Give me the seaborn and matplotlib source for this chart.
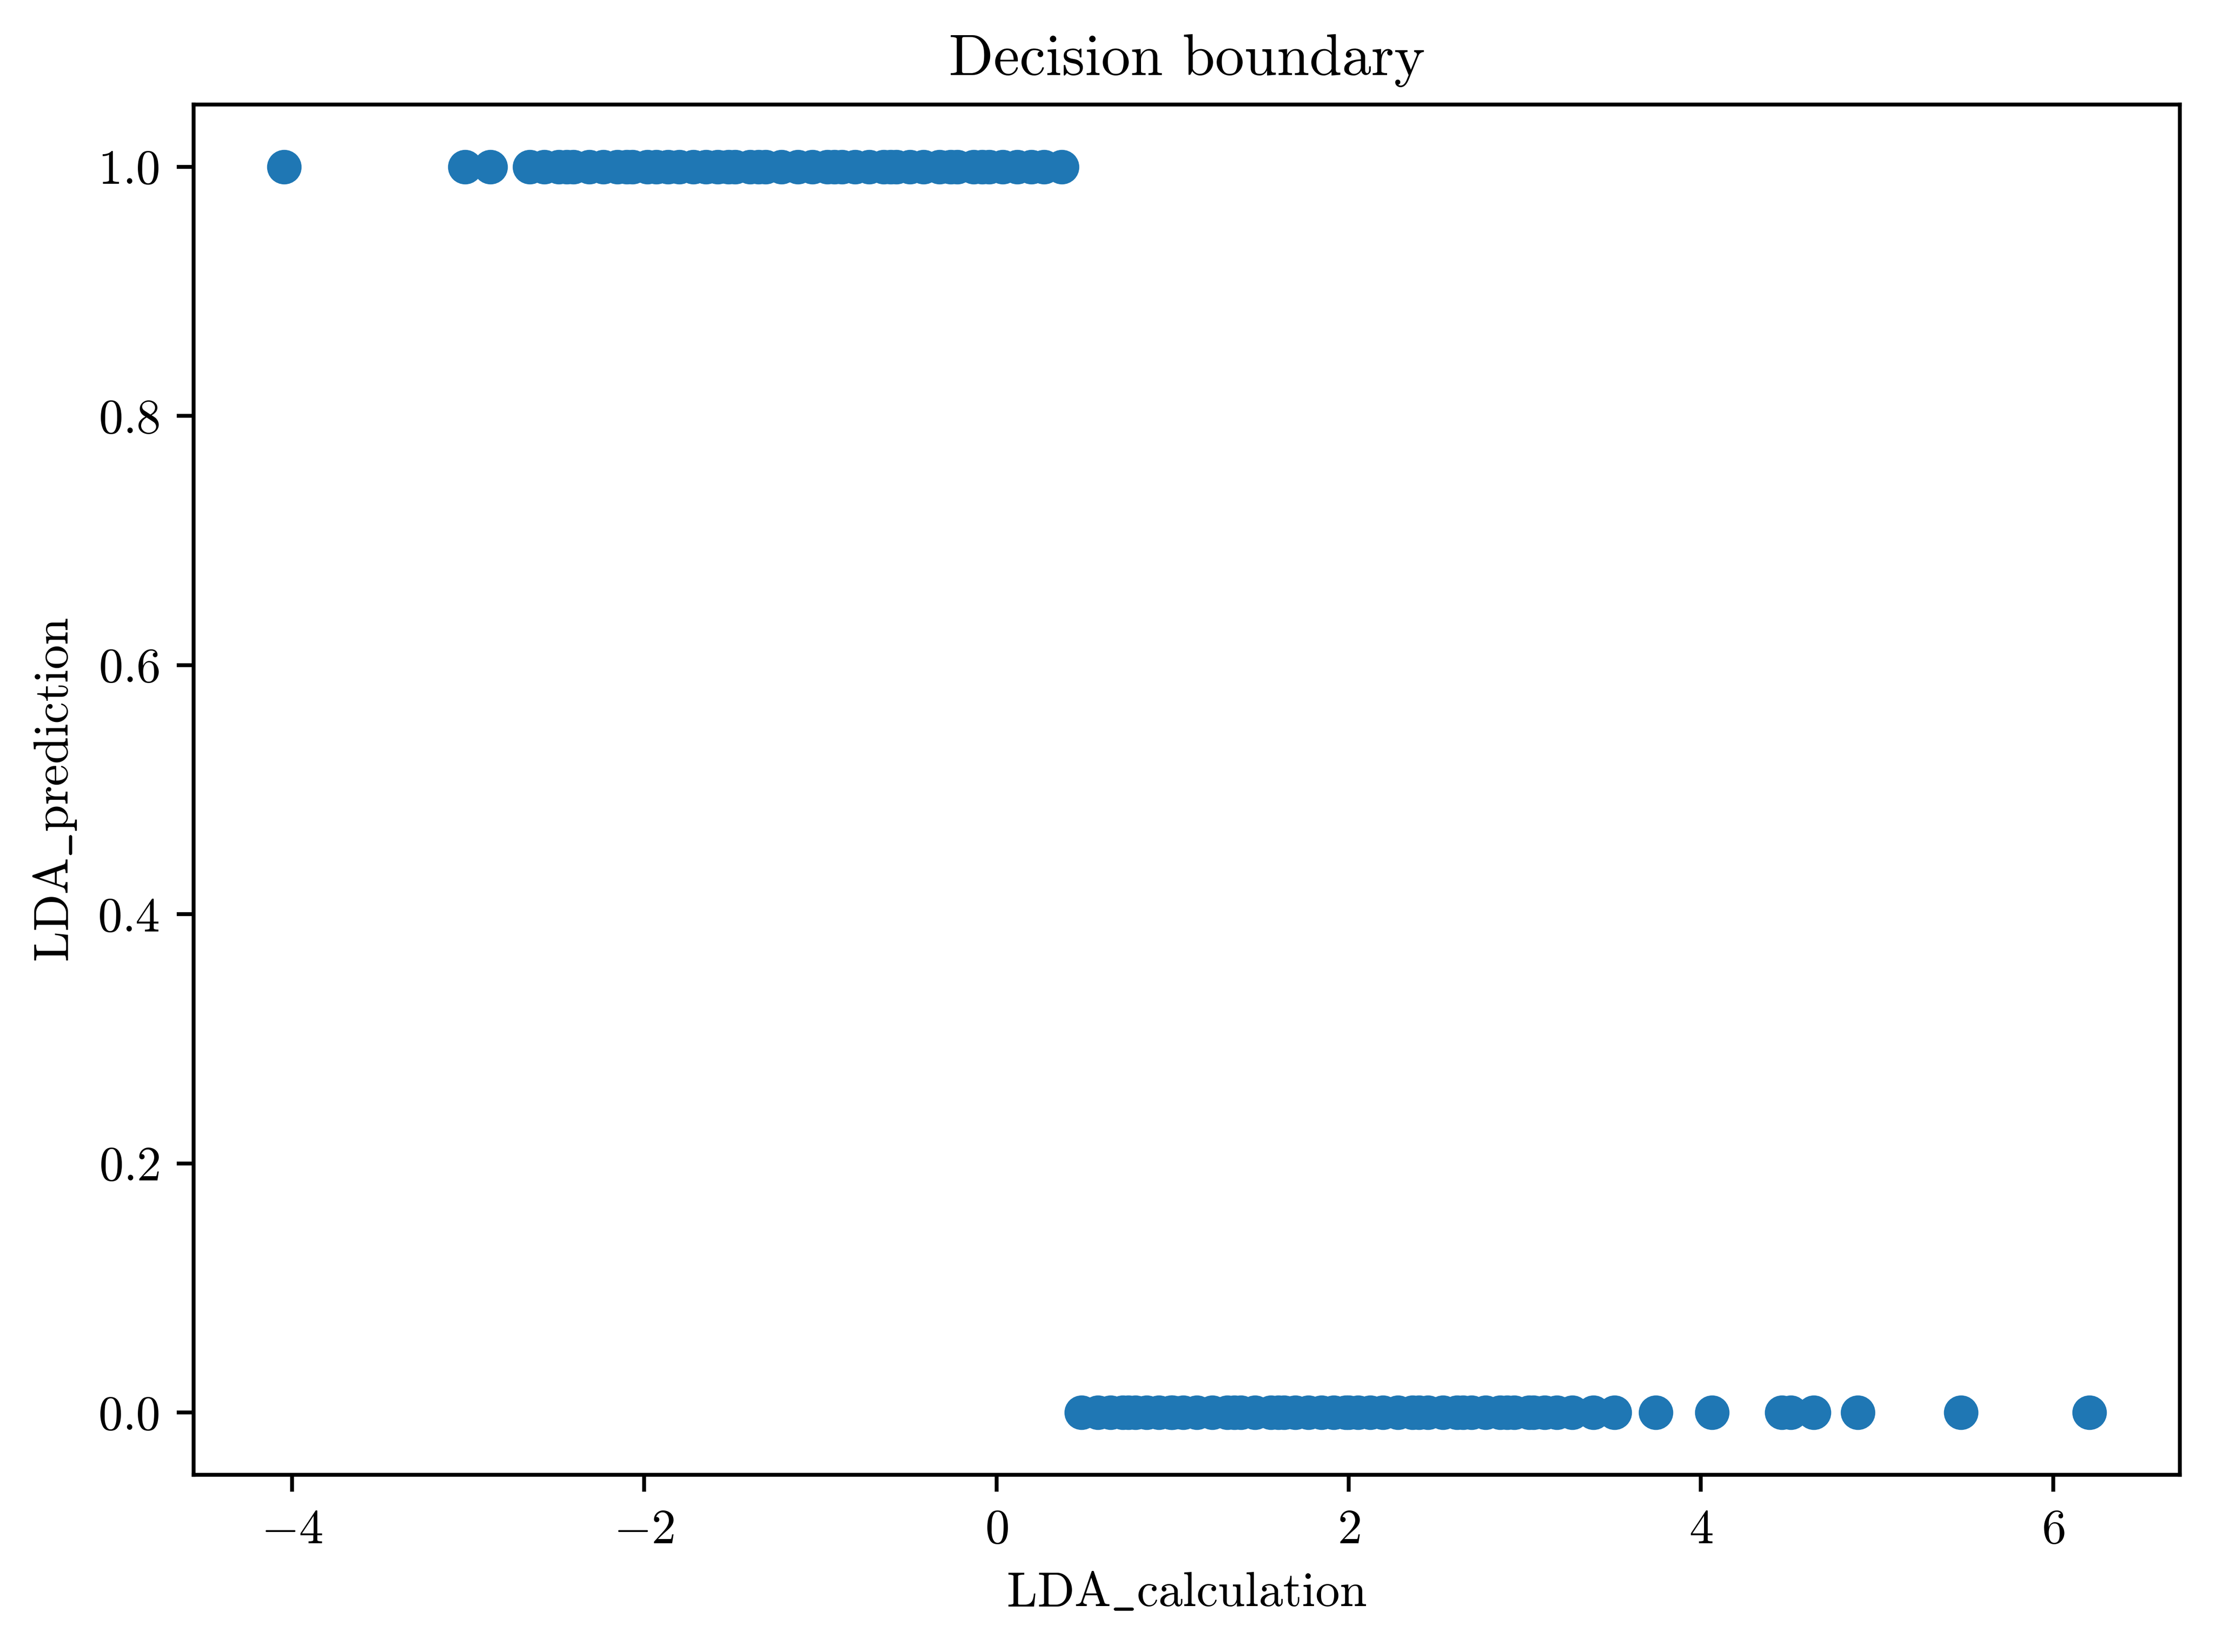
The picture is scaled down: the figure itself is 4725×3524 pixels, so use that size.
import matplotlib
matplotlib.use("Agg")
import matplotlib.pyplot as plt
import seaborn as sns
import pandas as pd

# LDA_calculation values predicted as class 1
calc_class1 = [
    -4.045, -3.017, -2.874,
    -2.649, -2.568, -2.486, -2.44, -2.402, -2.312, -2.231, -2.152, -2.10, -2.068,
    -1.981, -1.93, -1.865, -1.80, -1.720, -1.65, -1.583, -1.52, -1.483, -1.399,
    -1.35, -1.310, -1.220, -1.127, -1.044, -0.960, -0.92, -0.876, -0.802, -0.723,
    -0.641, -0.60, -0.568, -0.492, -0.413, -0.323, -0.26, -0.223, -0.129, -0.08,
    -0.042, 0.037, 0.119, 0.198, 0.271, 0.37,
]
# LDA_calculation values predicted as class 0
calc_class0 = [
    0.484, 0.577, 0.649, 0.718, 0.75, 0.788, 0.854, 0.923, 0.992, 1.0, 1.061,
    1.139, 1.226, 1.310, 1.35, 1.388, 1.468, 1.558, 1.6, 1.633, 1.696, 1.771,
    1.846, 1.916, 1.985, 2.0, 2.054, 2.122, 2.194, 2.279, 2.363, 2.4, 2.449,
    2.536, 2.616, 2.65, 2.697, 2.778, 2.859, 2.9, 2.940, 3.026, 3.05, 3.113,
    3.182, 3.269, 3.390, 3.509, 3.745, 4.062, 4.461, 4.509, 4.641, 4.891,
    5.477, 6.207,
]
pred_class1 = [1.0] * len(calc_class1)
pred_class0 = [0.0] * len(calc_class0)

title = "Decision boundary"
xlabel = r"$\mathrm{LDA\_calculation}$"
ylabel = r"$\mathrm{LDA\_prediction}$"

df = pd.DataFrame({
    "LDA_calculation": calc_class1 + calc_class0,
    "LDA_prediction": pred_class1 + pred_class0,
})

plt.rcParams["font.family"] = ["cmr10", "DejaVu Serif"]
plt.rcParams["mathtext.fontset"] = "cm"
plt.rcParams["axes.formatter.use_mathtext"] = True
plt.rcParams["axes.unicode_minus"] = True
plt.rcParams["font.size"] = 10

DPI = 750
fig = plt.figure(figsize=(4725 / DPI, 3524 / DPI), dpi=DPI)
ax = fig.add_axes([0.08747, 0.10726, 0.89666, 0.82946])

sns.scatterplot(data=df, x="LDA_calculation", y="LDA_prediction", ax=ax,
                color="#1f77b4", s=50, linewidth=0, legend=False)

ax.set_title(title, fontsize=12)
ax.set_xlabel(xlabel, fontsize=10)
ax.set_ylabel(ylabel, fontsize=10)

fig.savefig("out.png", dpi=DPI)
